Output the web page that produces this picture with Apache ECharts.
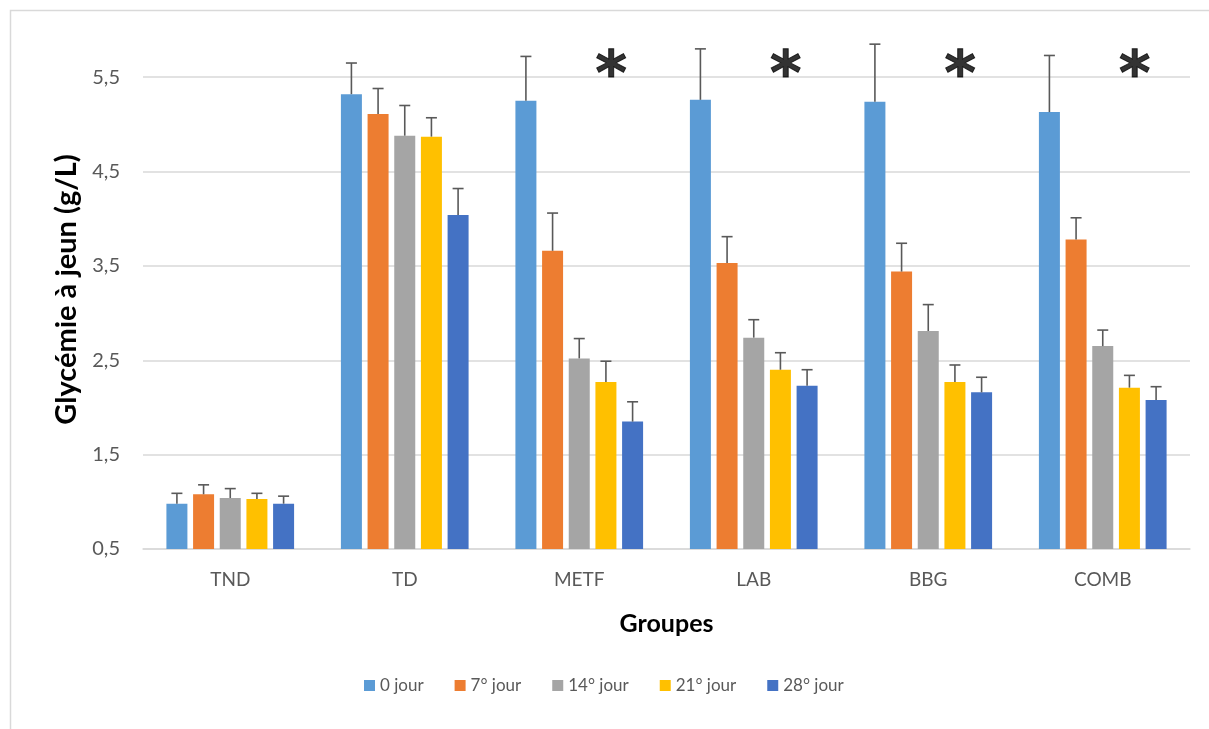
<!DOCTYPE html>
<html>
<head>
<meta charset="utf-8">
<title>Glycémie à jeun</title>
<script src="https://cdn.jsdelivr.net/npm/echarts@6/dist/echarts.min.js"></script>
<style>
  html, body { margin: 0; padding: 0; background: #ffffff; }
  #chart { width: 1209px; height: 729px; }
</style>
</head>
<body>
<div id="chart"></div>
<script>
// Groups on the x axis
const categories = ['TND', 'TD', 'METF', 'LAB', 'BBG', 'COMB'];
// Measurement days (one bar series each)
const seriesNames = ['0 jour', '7° jour', '14° jour', '21° jour', '28° jour'];

// Mean fasting glycaemia (g/L) per group
const day0  = [0.98, 5.32, 5.25, 5.26, 5.24, 5.13];
const day7  = [1.08, 5.11, 3.66, 3.53, 3.44, 3.78];
const day14 = [1.04, 4.88, 2.52, 2.74, 2.81, 2.65];
const day21 = [1.03, 4.87, 2.27, 2.40, 2.27, 2.21];
const day28 = [0.98, 4.04, 1.85, 2.23, 2.16, 2.08];

// Upper error (g/L) per group
const err0  = [0.11, 0.33, 0.47, 0.54, 0.61, 0.60];
const err7  = [0.10, 0.27, 0.40, 0.28, 0.30, 0.23];
const err14 = [0.10, 0.32, 0.21, 0.19, 0.28, 0.17];
const err21 = [0.06, 0.20, 0.22, 0.18, 0.18, 0.13];
const err28 = [0.08, 0.28, 0.21, 0.17, 0.16, 0.14];

// Groups marked as significant
const significant = ['METF', 'LAB', 'BBG', 'COMB'];

// Y axis range and step
const yMin = 0.5, yMax = 6, yStep = 1;

const means = [day0, day7, day14, day21, day28];
const errors = [err0, err7, err14, err21, err28];
const colors = ['#5B9BD5', '#ED7D31', '#A5A5A5', '#FFC000', '#4472C4'];

const BAR_W = 21;
const BAR_GAP = 0.27;            // fraction of bar width between bars
const STEP = BAR_W * (1 + BAR_GAP);
const N = seriesNames.length;
const FONT = 'Lato, "Open Sans", sans-serif';

const series = [];
means.forEach((vals, i) => {
  series.push({
    name: seriesNames[i],
    type: 'bar',
    data: vals,
    barWidth: BAR_W,
    barGap: (BAR_GAP * 100) + '%',
    itemStyle: { color: colors[i] },
    z: 2
  });
});

// Upper error bars, aligned with each bar's slot in its group
means.forEach((vals, i) => {
  const offset = (i - (N - 1) / 2) * STEP;
  series.push({
    name: seriesNames[i] + ' err',
    type: 'custom',
    z: 3,
    silent: true,
    data: vals.map((v, k) => [k, v, errors[i][k]]),
    renderItem: function (params, api) {
      const base = api.coord([api.value(0), api.value(1)]);
      const top = api.coord([api.value(0), api.value(1) + api.value(2)]);
      const x = base[0] + offset;
      const style = { stroke: '#595959', lineWidth: 1.6 };
      return {
        type: 'group',
        children: [
          { type: 'line', shape: { x1: x, y1: base[1], x2: x, y2: top[1] }, style: style },
          { type: 'line', shape: { x1: x - 5.5, y1: top[1], x2: x + 5.5, y2: top[1] }, style: style }
        ]
      };
    }
  });
});

// Significance stars above the marked groups
series.push({
  name: 'sig',
  type: 'scatter',
  silent: true,
  z: 4,
  symbolSize: 2,
  itemStyle: { color: 'rgba(0,0,0,0)' },
  data: significant.map(g => [g, 5.5]),
  label: {
    show: true,
    position: 'inside',
    formatter: '*',
    offset: [32, 1],
    color: '#000000',
    fontFamily: '"DejaVu Sans", sans-serif',
    fontWeight: 'bold',
    fontSize: 60,
    textBorderColor: '#000000',
    textBorderWidth: 1
  }
});

const chart = echarts.init(document.getElementById('chart'), null, { renderer: 'canvas' });
chart.setOption({
  backgroundColor: '#ffffff',
  animation: false,
  textStyle: { fontFamily: FONT },
  graphic: [{
    type: 'rect',
    shape: { x: 10.5, y: 10.5, width: 1250, height: 800 },
    style: { fill: 'none', stroke: '#d9d9d9', lineWidth: 1.5 },
    silent: true
  }],
  grid: { left: 143, right: 19, top: 30, bottom: 180 },
  legend: {
    data: seriesNames,
    left: 359,
    top: 672,
    itemWidth: 11,
    itemHeight: 11,
    itemGap: 31,
    icon: 'rect',
    textStyle: { color: '#595959', fontSize: 17, fontFamily: FONT }
  },
  xAxis: {
    type: 'category',
    data: categories,
    name: 'Groupes',
    nameLocation: 'middle',
    nameGap: 62,
    nameTextStyle: { color: '#000000', fontSize: 25, fontWeight: 'bold', fontFamily: FONT },
    axisLine: { lineStyle: { color: '#d9d9d9', width: 1.5 } },
    axisTick: { show: false },
    axisLabel: { color: '#595959', fontSize: 19, margin: 21, fontFamily: FONT }
  },
  yAxis: {
    type: 'value',
    min: yMin,
    max: yMax,
    interval: yStep,
    name: 'Glycémie à jeun (g/L)',
    nameLocation: 'middle',
    nameGap: 60,
    nameTextStyle: { color: '#000000', fontSize: 29, fontWeight: 'bold', fontFamily: FONT },
    axisLine: { show: false },
    axisTick: { show: false },
    splitLine: { show: true, showMaxLine: false, lineStyle: { color: '#d9d9d9', width: 1.5 } },
    axisLabel: {
      color: '#595959',
      fontSize: 20,
      margin: 23,
      showMaxLabel: false,
      fontFamily: FONT,
      formatter: v => String(v).replace('.', ',')
    }
  },
  series: series
});
</script>
</body>
</html>
